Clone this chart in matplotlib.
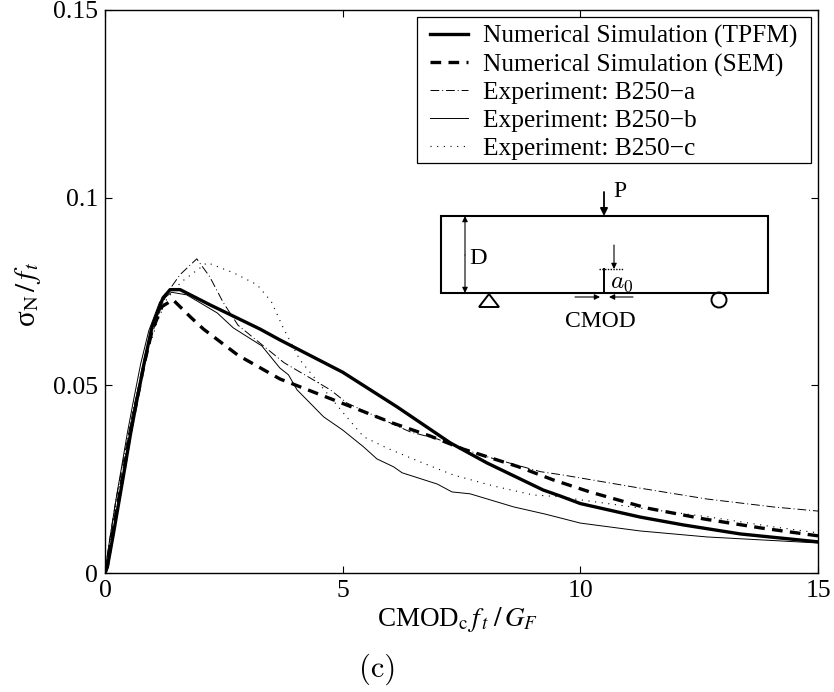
"""Normalised load against CMOD for beam B250, simulations and three experiments."""
import matplotlib
matplotlib.use("Agg")
import matplotlib.pyplot as plt
from matplotlib.patches import Circle, FancyArrowPatch, Polygon, Rectangle
from matplotlib.transforms import Affine2D

plt.rcParams["font.family"] = ["Liberation Serif", "DejaVu Serif"]
plt.rcParams["mathtext.fontset"] = "stix"

W, H = 834, 692

tpfm_x = [0, 0.05, 0.18, 0.3, 0.42, 0.54, 0.67, 0.82, 0.99, 1.22, 1.37, 1.58, 2.2, 3.26, 3.68, 5.0, 6.14, 7.26, 8.04, 9.22, 9.58, 10, 11.26, 12.17, 13.37, 15]
tpfm_y = [0, 0.0016, 0.0107, 0.0195, 0.0283, 0.0373, 0.046, 0.0557, 0.0656, 0.0733, 0.0755, 0.0755, 0.0715, 0.065, 0.0621, 0.0535, 0.0443, 0.0347, 0.0293, 0.0221, 0.0205, 0.0185, 0.0149, 0.0128, 0.0104, 0.0083]

sem_x = [0, 0.05, 0.18, 0.3, 0.42, 0.54, 0.67, 0.82, 0.99, 1.2, 1.43, 1.79, 2.07, 2.8, 3.68, 4.53, 5.3, 6.04, 6.84, 7.54, 8.7, 9.43, 10.2, 11.4, 12.6, 13.8, 15]
sem_y = [0, 0.002, 0.012, 0.0205, 0.029, 0.038, 0.046, 0.0555, 0.0645, 0.071, 0.0728, 0.0683, 0.065, 0.058, 0.0517, 0.0475, 0.0437, 0.04, 0.0365, 0.033, 0.0283, 0.0248, 0.0216, 0.0173, 0.0144, 0.012, 0.0099]

exp_a_x = [0, 0.03, 0.1, 0.23, 0.6, 0.9, 1.1, 1.3, 1.58, 1.93, 2.2, 2.49, 2.8, 3.77, 4.27, 4.74, 5.09, 5.72, 6.42, 6.99, 7.89, 9.16, 9.64, 11.26, 12.67, 14.06, 15]
exp_a_y = [0, 0.003, 0.009, 0.0195, 0.044, 0.06, 0.068, 0.0745, 0.0795, 0.0837, 0.079, 0.072, 0.066, 0.056, 0.0523, 0.0488, 0.0453, 0.0416, 0.0376, 0.0357, 0.0315, 0.027, 0.0261, 0.0226, 0.0197, 0.0176, 0.0165]

exp_b_x = [0, 0.03, 0.1, 0.23, 0.35, 0.47, 0.6, 0.75, 0.92, 1.15, 1.4, 1.72, 2.0, 2.36, 2.7, 3.3, 3.68, 3.86, 4.04, 4.6, 5.0, 5.44, 5.72, 6.07, 6.25, 6.99, 7.3, 7.68, 8.6, 9.26, 10, 11.26, 12.67, 15]
exp_b_y = [0, 0.003, 0.009, 0.0195, 0.0283, 0.0373, 0.046, 0.0557, 0.0645, 0.0722, 0.0748, 0.0741, 0.072, 0.0693, 0.0653, 0.0605, 0.0546, 0.0528, 0.0488, 0.0416, 0.0381, 0.0336, 0.0304, 0.0283, 0.0267, 0.0237, 0.0216, 0.0211, 0.0176, 0.0157, 0.0133, 0.0112, 0.0096, 0.008]

exp_c_x = [0, 0.03, 0.1, 0.23, 0.6, 0.9, 1.1, 1.3, 1.6, 2.15, 2.7, 3.2, 3.5, 3.75, 4.1, 4.6, 5.05, 5.44, 5.93, 6.63, 7.33, 8.17, 9.0, 9.58, 10, 11.26, 12.67, 14.06, 15]
exp_c_y = [0, 0.002, 0.008, 0.018, 0.043, 0.059, 0.067, 0.073, 0.0775, 0.0827, 0.08, 0.0768, 0.0723, 0.0653, 0.0568, 0.049, 0.0421, 0.0363, 0.0333, 0.0296, 0.0261, 0.0232, 0.0208, 0.0203, 0.0195, 0.0173, 0.015, 0.0123, 0.0107]

x_ticks = [0, 5, 10, 15]
x_labels = ["0", "5", "10", "15"]
y_ticks = [0, 0.05, 0.1, 0.15]
y_labels = ["0", "0.05", "0.1", "0.15"]

fig = plt.figure(figsize=(W / 100, H / 100), dpi=100)
ax = fig.add_axes([105 / W, 1 - 573 / H, (818 - 105) / W, (573 - 10) / H])

# Sketch and legend box are placed in figure pixels, y counted from the top
pix = Affine2D().scale(1, -1).translate(0, H)

ax.plot(tpfm_x, tpfm_y, "k-", lw=2.4, label="Numerical Simulation (TPFM)")
ax.plot(sem_x, sem_y, "k", ls=(0, (3.2, 2.2)), lw=2.4, label="Numerical Simulation (SEM)")
ax.plot(exp_a_x, exp_a_y, "k", ls=(0, (9, 3, 1, 3)), lw=0.7, label="Experiment: B250\u2212a")
ax.plot(exp_b_x, exp_b_y, "k-", lw=0.7, label="Experiment: B250\u2212b")
ax.plot(exp_c_x, exp_c_y, "k", ls=(0, (1, 5)), lw=0.8, label="Experiment: B250\u2212c")

ax.set_xlim(0, 15)
ax.set_ylim(0, 0.15)
ax.set_xticks(x_ticks, x_labels)
ax.set_yticks(y_ticks, y_labels)
ax.tick_params(direction="in", top=True, right=True, length=5, width=0.8, labelsize=18.5, pad=5)
for spine in ax.spines.values():
    spine.set_linewidth(1.0)

ax.add_patch(Rectangle((417, 17), 394, 146, transform=pix, fc="w", ec="k", lw=0.9, zorder=4.5, clip_on=False))
ax.legend(loc="upper left", bbox_to_anchor=(430, 25), bbox_transform=pix, fontsize=18.3, frameon=False,
          borderpad=0, labelspacing=0.2, handlelength=1.5, handletextpad=0.6, borderaxespad=0)

fig.text(458 / W, 1 - 626 / H, "CMOD$_{\\mathrm{c}}\\,f_{\\,t}\\;/\\,G_{F}$", fontsize=19.5, ha="center", va="baseline")
fig.text(28 / W, 1 - 294 / H, "\u03c3$_{\\mathrm{N}}\\,/\\,f_{\\,t}$", fontsize=21, rotation=90, ha="center", va="center")
fig.text(378 / W, 1 - 677 / H, "(c)", fontsize=22, family="cmr10", ha="center", va="baseline")


def arrow(x0, y0, x1, y1, lw=1.0, size=8):
    fig.add_artist(FancyArrowPatch((x0, y0), (x1, y1), transform=pix, arrowstyle="-|>", mutation_scale=size,
                                   lw=lw, color="k", shrinkA=0, shrinkB=0))


def seg(xs, ys, **kw):
    fig.add_artist(plt.Line2D(xs, ys, transform=pix, color="k", **kw))


fig.add_artist(Rectangle((441, 216), 327, 77, transform=pix, fill=False, ec="k", lw=1.5))
arrow(604, 192, 604, 216, lw=1.3, size=11)
arrow(465, 255, 465, 216, lw=0.8)
arrow(465, 255, 465, 293, lw=0.8)
seg([604, 604], [269, 293], lw=1.4)
seg([599, 624], [269, 269], lw=1.0, ls=(0, (1, 1)))
arrow(614, 245, 614, 269, lw=0.8)
arrow(575, 297, 600, 297, lw=0.8)
arrow(633, 297, 609, 297, lw=0.8)
fig.add_artist(Polygon([(489, 294), (479, 307), (499, 307)], transform=pix, fill=False, ec="k", lw=1.4))
fig.add_artist(Circle((719, 300), 7.5, transform=pix, fill=False, ec="k", lw=1.4))

fig.text(620 / W, 1 - 197 / H, "P", fontsize=17, ha="center", va="baseline")
fig.text(478 / W, 1 - 264 / H, "D", fontsize=17.5, ha="center", va="baseline")
fig.text(622 / W, 1 - 288 / H, "$a_0$", fontsize=18, ha="center", va="baseline", math_fontfamily="cm")
fig.text(600 / W, 1 - 327 / H, "CMOD", fontsize=17, ha="center", va="baseline")

fig.savefig("out.png", dpi=100)
